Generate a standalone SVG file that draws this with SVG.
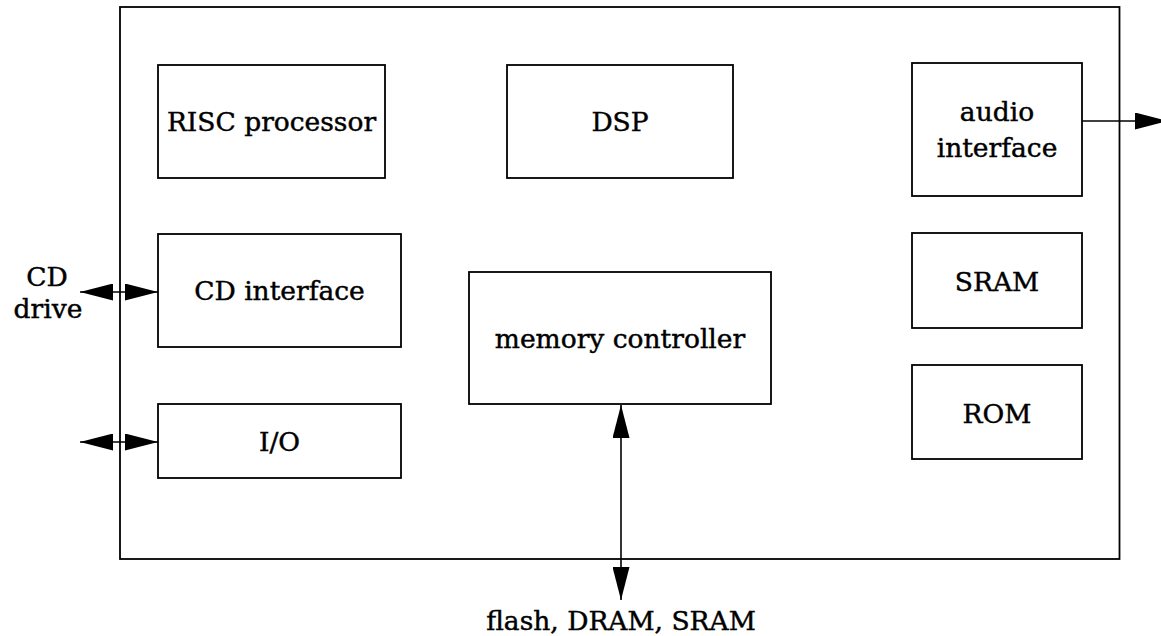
<svg xmlns="http://www.w3.org/2000/svg" width="1161" height="636" viewBox="0 0 1161 636">
  <style>
    .box { fill: #ffffff; stroke: #000000; stroke-width: 1.8; }
    .chip { fill: none; stroke: #000000; stroke-width: 1.8; }
    .lbl { font-family: "DejaVu Serif", "Liberation Serif", serif; font-size: 26.5px; fill: #000000; stroke: #000000; stroke-width: 0.45; text-anchor: middle; }
    .wire { fill: none; stroke: #000000; stroke-width: 1.6; }
    .both { marker-start: url(#head); marker-end: url(#head); }
    .one { marker-end: url(#head); }
  </style>
  <defs>
    <marker id="head" markerUnits="userSpaceOnUse" markerWidth="33" markerHeight="17" refX="33" refY="8.5" orient="auto-start-reverse" viewBox="0 0 33 17">
      <path d="M0,0 L33,8.5 L0,17 Z" fill="#000000"/>
    </marker>
  </defs>
  <rect width="1161" height="636" fill="#ffffff"/>

  <!-- chip outline -->
  <rect id="chip" class="chip" x="120" y="7" width="999.5" height="552"/>

  <g id="risc">
    <rect class="box" x="158" y="65" width="227" height="113"/>
    <text class="lbl" x="271.5" y="131">RISC processor</text>
  </g>
  <g id="dsp">
    <rect class="box" x="507" y="65" width="226" height="113"/>
    <text class="lbl" x="620" y="131">DSP</text>
  </g>
  <g id="audio">
    <rect class="box" x="912" y="63" width="170" height="133"/>
    <text class="lbl" x="997" y="121">audio</text>
    <text class="lbl" x="997" y="157">interface</text>
  </g>
  <g id="cdif">
    <rect class="box" x="158" y="234" width="243" height="113"/>
    <text class="lbl" x="279.5" y="300">CD interface</text>
  </g>
  <g id="memctl">
    <rect class="box" x="469" y="272" width="302" height="132"/>
    <text class="lbl" x="620" y="347.5">memory controller</text>
  </g>
  <g id="sram">
    <rect class="box" x="912" y="233" width="170" height="95"/>
    <text class="lbl" x="997" y="291">SRAM</text>
  </g>
  <g id="rom">
    <rect class="box" x="912" y="365" width="170" height="94"/>
    <text class="lbl" x="997" y="423">ROM</text>
  </g>
  <g id="io">
    <rect class="box" x="158" y="404" width="243" height="74"/>
    <text class="lbl" x="279.5" y="451">I/O</text>
  </g>

  <!-- external labels -->
  <g id="cddrive">
    <text class="lbl" x="47" y="286">CD</text>
    <text class="lbl" x="48" y="318">drive</text>
  </g>
  <g id="extmem">
    <text class="lbl" x="621" y="630">flash, DRAM, SRAM</text>
  </g>

  <g id="connectors">
    <line class="wire both" x1="80" y1="292" x2="158" y2="292"/>
    <line class="wire both" x1="80" y1="442" x2="158" y2="442"/>
    <line class="wire one" x1="1082" y1="121" x2="1168" y2="121"/>
    <line class="wire both" x1="621" y1="405" x2="621" y2="600"/>
  </g>
</svg>
